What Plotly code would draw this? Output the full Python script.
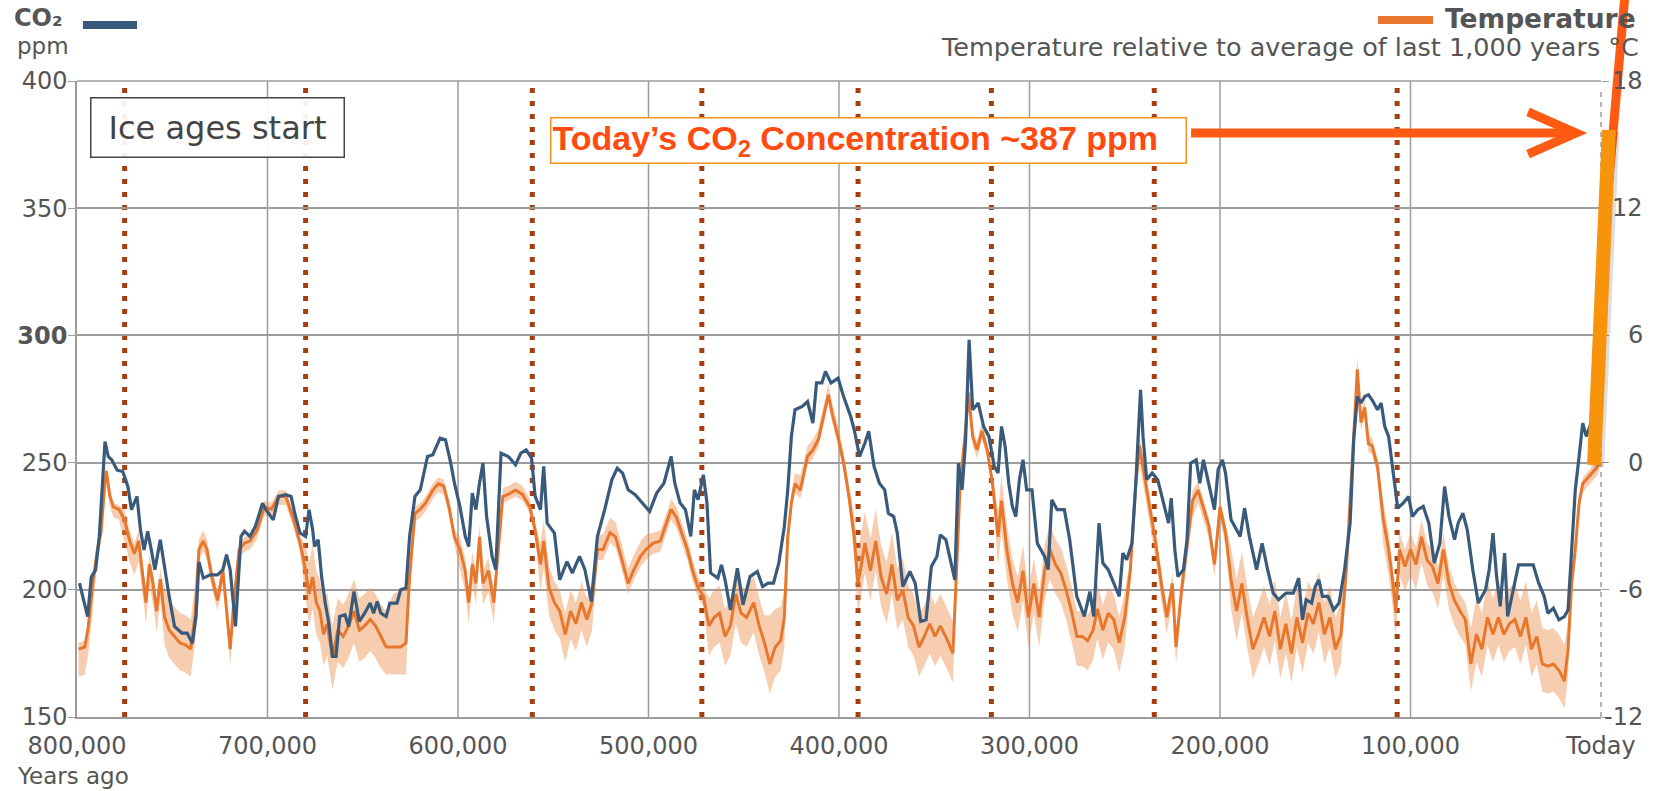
import plotly.graph_objects as go

# ---------------- data (years ago in thousands) ----------------
co2_kyr = [798.7, 795.9, 794.4, 792.5, 790.2, 788.3, 786.4, 785.3, 783.6, 781.7, 778.9, 776.0, 773.3, 771.4, 768.5,
           766.7, 764.8, 762.9, 761.0, 759.1, 756.3, 754.4, 751.6, 748.8, 745.0, 742.2, 739.4, 737.5, 736.0, 733.7,
           730.0, 726.2, 723.4, 721.5, 719.6, 716.8, 715.3, 713.9, 712.1, 709.2, 706.4, 702.6, 700.8, 697.0, 694.2,
           690.4, 687.6, 685.7, 682.9, 680.0, 678.2, 676.3, 675.3, 673.4, 671.6, 669.7, 667.8, 665.9, 664.0, 662.1,
           659.3, 657.4, 654.6, 651.8, 649.0, 646.1, 644.3, 642.4, 640.5, 637.7, 635.8, 632.0, 630.1, 627.3, 625.4,
           622.6, 619.8, 616.0, 613.2, 609.4, 606.6, 603.8, 601.9, 599.0, 596.2, 594.4, 592.5, 590.6, 588.7, 586.9,
           585.0, 582.1, 580.2, 578.3, 577.4, 573.6, 569.8, 567.0, 564.2, 561.4, 559.5, 556.7, 555.0, 553.2, 549.4,
           546.6, 542.8, 540.0, 536.2, 533.4, 530.0, 526.8, 523.0, 519.2, 516.4, 513.6, 510.7, 507.0, 503.2, 499.4,
           495.7, 491.9, 488.1, 486.2, 483.4, 480.6, 477.8, 475.9, 474.0, 471.2, 469.3, 467.4, 463.6, 461.7, 459.8,
           457.0, 453.3, 450.4, 446.7, 442.9, 440.1, 437.2, 434.4, 431.6, 428.7, 426.9, 425.0, 423.1, 419.3, 416.5,
           413.7, 411.8, 409.0, 407.1, 404.2, 400.5, 397.6, 393.9, 392.0, 389.2, 386.4, 384.4, 381.6, 378.8, 376.0,
           374.1, 371.3, 369.4, 366.5, 362.8, 360.0, 357.1, 354.3, 351.5, 348.6, 346.8, 343.9, 339.2, 337.3, 335.4,
           333.6, 331.7, 329.8, 326.9, 324.1, 321.3, 318.5, 316.5, 314.7, 312.8, 310.9, 309.0, 307.2, 305.3, 303.4,
           301.5, 298.7, 295.9, 292.1, 290.2, 288.3, 285.5, 281.7, 278.9, 275.2, 271.2, 268.3, 266.3, 263.5, 261.5,
           258.7, 255.8, 252.9, 251.0, 249.0, 246.2, 244.2, 241.7, 240.4, 238.5, 235.6, 232.7, 229.8, 227.0, 225.6,
           223.7, 222.1, 219.2, 217.3, 215.4, 212.5, 210.6, 208.7, 205.8, 202.9, 201.0, 198.7, 197.1, 194.2, 191.3,
           189.4, 187.1, 184.6, 180.8, 177.9, 175.0, 172.1, 169.2, 165.4, 161.5, 158.7, 156.7, 154.8, 151.9, 150.0,
           148.1, 146.2, 143.3, 140.4, 137.5, 134.6, 131.7, 129.8, 127.9, 126.0, 124.0, 122.1, 120.2, 117.3, 115.4,
           113.5, 111.5, 109.6, 107.7, 106.7, 103.8, 101.0, 99.0, 96.2, 93.3, 90.4, 87.5, 84.6, 82.1, 79.8,
           76.9, 75.0, 72.5, 70.2, 67.3, 64.4, 60.6, 58.7, 56.7, 54.8, 52.9, 50.6, 49.0, 46.2, 43.3,
           39.4, 35.6, 32.7, 29.8, 27.9, 25.0, 22.1, 19.2, 17.3, 15.4, 13.5, 11.5, 9.6, 7.7, 5.0, 2.0]

co2_ppm = [202.6, 193.5, 189.5, 205.0, 207.9, 221.0, 248.5, 258.3, 252.4, 251.0, 247.0, 246.5, 240.6, 231.5, 236.7,
           223.6, 215.7, 223.0, 215.7, 207.9, 219.7, 210.5, 197.4, 185.6, 183.0, 183.0, 179.0, 189.5, 211.0, 204.6,
           205.9, 205.9, 207.9, 213.8, 207.9, 185.6, 202.6, 221.0, 223.0, 221.0, 224.9, 234.0, 231.5, 227.5, 236.7,
           237.4, 236.7, 230.1, 222.3, 221.0, 231.5, 223.6, 217.0, 219.7, 205.2, 194.8, 186.9, 173.8, 173.8, 189.5,
           190.2, 185.6, 199.3, 187.6, 190.8, 194.8, 190.8, 195.4, 190.8, 189.5, 194.8, 194.8, 200.0, 200.7, 221.0,
           236.7, 239.3, 252.4, 253.1, 259.6, 259.0, 249.8, 242.0, 232.8, 221.0, 217.0, 238.0, 231.5, 242.0, 249.8,
           228.8, 213.1, 207.9, 239.3, 253.7, 252.4, 249.1, 253.7, 255.0, 251.8, 236.7, 231.5, 248.5, 226.2, 222.3,
           203.9, 211.1, 206.6, 213.1, 207.9, 195.4, 221.0, 231.5, 243.3, 247.8, 245.9, 239.3, 237.4, 234.1, 230.8,
           238.0, 241.9, 252.4, 241.9, 234.1, 231.5, 221.0, 239.3, 235.4, 245.2, 234.1, 206.6, 204.6, 209.8, 203.9,
           192.1, 208.5, 194.1, 205.2, 207.2, 201.3, 202.6, 202.6, 210.5, 224.9, 239.3, 260.3, 270.8, 272.1, 274.0,
           265.5, 281.3, 281.3, 285.8, 281.3, 283.2, 276.0, 268.2, 262.9, 252.4, 257.7, 262.3, 248.5, 241.9, 239.3,
           230.1, 228.8, 222.3, 201.3, 207.2, 202.6, 187.6, 188.2, 209.2, 213.1, 221.6, 219.7, 203.9, 249.8, 239.3,
           257.7, 298.3, 270.8, 273.4, 264.2, 260.3, 248.5, 245.9, 264.2, 256.4, 241.9, 232.8, 228.8, 243.3, 251.1,
           239.3, 239.3, 218.3, 213.1, 207.9, 235.4, 231.5, 231.5, 219.7, 197.4, 189.5, 199.3, 189.5, 226.2, 210.5,
           207.9, 202.6, 197.4, 214.4, 211.8, 218.3, 241.9, 278.6, 260.3, 243.3, 245.9, 243.3, 234.1, 226.2, 236.0,
           215.7, 205.2, 207.9, 219.7, 249.8, 251.1, 241.9, 251.1, 241.9, 231.5, 247.2, 251.1, 245.9, 227.5, 223.6,
           221.0, 232.1, 221.0, 207.9, 218.3, 207.9, 198.7, 196.1, 198.7, 198.7, 204.6, 188.2, 196.1, 194.8, 201.3,
           203.9, 197.4, 197.4, 192.1, 194.8, 207.9, 226.2, 259.0, 276.0, 273.4, 276.0, 276.7, 274.7, 270.8, 273.4,
           264.2, 260.3, 249.8, 239.3, 232.1, 234.1, 236.7, 228.8, 231.5, 232.8, 226.2, 210.5, 218.3, 240.6, 228.8,
           219.7, 226.2, 230.1, 223.6, 207.9, 194.8, 200.0, 207.9, 222.3, 205.2, 193.5, 214.4, 189.5, 200.0, 209.8,
           209.8, 209.8, 202.6, 197.4, 190.8, 192.8, 188.2, 189.5, 192.1, 215.7, 239.3, 252.4, 265.5, 260.3, 266.0, 270.0]

temp_kyr = [799.2, 795.9, 794.0, 791.7, 789.3, 787.4, 785.5, 784.6, 782.7, 780.8, 778.0, 775.1, 772.3, 769.9, 767.6,
            765.7, 763.8, 762.0, 760.1, 758.2, 756.3, 754.0, 751.6, 748.8, 746.0, 743.1, 740.3, 737.9, 736.0, 733.7,
            731.8, 729.0, 726.2, 723.4, 721.5, 719.6, 717.7, 714.9, 712.1, 709.2, 705.5, 701.7, 697.9, 694.2, 690.4,
            686.6, 682.9, 680.0, 678.2, 676.3, 674.4, 672.5, 670.6, 668.7, 665.9, 663.1, 660.3, 657.4, 654.6, 651.8,
            649.0, 646.1, 643.3, 640.5, 637.7, 633.9, 630.1, 627.3, 625.4, 622.6, 619.8, 617.0, 613.2, 610.4, 607.5,
            604.7, 601.9, 599.0, 596.2, 594.4, 592.5, 590.6, 588.7, 586.9, 584.0, 581.2, 578.3, 576.5, 573.6, 569.8,
            566.1, 562.3, 559.5, 556.7, 555.0, 552.2, 549.4, 546.6, 543.7, 540.9, 538.1, 535.2, 532.4, 529.6, 526.8,
            523.9, 520.2, 517.3, 514.5, 510.7, 507.9, 504.1, 501.3, 497.5, 493.8, 491.0, 488.1, 485.3, 482.5, 479.6,
            476.8, 474.0, 471.2, 468.3, 465.5, 462.7, 459.8, 457.0, 454.2, 451.4, 448.5, 444.8, 441.9, 439.1, 436.3,
            433.5, 430.6, 428.7, 426.9, 425.0, 423.1, 420.3, 416.5, 413.7, 410.8, 408.0, 405.6, 403.3, 400.5, 397.6,
            394.8, 392.0, 390.1, 388.2, 386.4, 383.5, 380.7, 377.9, 375.0, 372.2, 369.4, 366.5, 363.7, 360.9, 358.0,
            355.2, 352.4, 349.6, 346.8, 343.0, 340.2, 338.3, 336.4, 333.6, 332.0, 329.8, 327.5, 325.0, 322.2, 319.4,
            316.5, 314.7, 311.9, 309.0, 306.2, 303.4, 300.6, 297.7, 294.9, 292.1, 289.3, 286.4, 283.6, 280.8, 278.0,
            275.1, 272.3, 269.5, 266.6, 264.4, 261.5, 258.7, 255.8, 252.9, 250.0, 247.1, 244.2, 242.3, 239.4, 236.5,
            233.7, 230.8, 227.9, 225.0, 223.1, 220.2, 217.3, 214.4, 211.5, 208.7, 205.8, 202.9, 200.0, 197.1, 194.2,
            191.3, 188.5, 185.6, 182.7, 179.8, 176.9, 174.0, 171.2, 168.3, 165.4, 162.5, 159.6, 156.7, 153.8, 151.0,
            148.1, 145.2, 142.3, 139.4, 136.5, 133.7, 131.7, 129.8, 127.9, 126.0, 124.0, 122.1, 120.2, 117.3, 114.4,
            111.5, 109.6, 107.7, 105.8, 102.9, 100.0, 97.1, 94.2, 91.3, 88.5, 85.6, 82.7, 79.8, 76.9, 74.0,
            71.2, 68.3, 65.4, 62.5, 59.6, 56.7, 53.8, 51.0, 48.1, 45.2, 42.3, 39.4, 36.5, 33.7, 30.8,
            27.9, 25.0, 22.1, 19.2, 17.3, 15.4, 13.5, 11.5, 9.6, 7.7, 4.8, 1.9, 0.9]

temp_c = [-8.8, -8.7, -7.7, -5.7, -4.1, -3.3, -1.1, -0.4, -1.6, -2.1, -2.2, -2.7, -3.7, -4.3, -3.7,
          -5.1, -6.6, -4.8, -5.7, -7.0, -5.5, -7.3, -7.9, -8.2, -8.5, -8.6, -8.8, -7.1, -4.1, -3.7,
          -4.1, -5.5, -6.5, -5.1, -7.0, -8.8, -6.6, -4.1, -3.8, -3.7, -3.2, -2.1, -2.2, -1.6, -1.6,
          -2.6, -3.8, -5.1, -6.2, -5.4, -6.6, -7.0, -8.1, -7.6, -9.2, -7.9, -8.2, -7.7, -7.0, -7.9,
          -7.7, -7.4, -7.7, -8.2, -8.7, -8.7, -8.7, -8.5, -5.4, -2.4, -2.2, -1.9, -1.3, -1.0, -1.1,
          -2.1, -3.5, -4.1, -5.1, -6.6, -4.8, -5.7, -3.5, -5.7, -5.1, -6.6, -3.5, -1.6, -1.5, -1.3,
          -1.5, -2.1, -3.2, -4.8, -3.7, -5.9, -6.6, -7.0, -8.1, -7.0, -7.6, -6.6, -7.4, -6.6, -4.1,
          -4.1, -3.3, -3.5, -4.4, -5.7, -5.1, -4.4, -4.1, -3.8, -3.7, -3.0, -2.2, -2.6, -3.3, -4.1,
          -5.1, -5.9, -6.3, -7.7, -7.3, -7.1, -8.2, -7.7, -6.2, -7.1, -7.3, -6.6, -7.7, -8.5, -9.5,
          -8.7, -8.4, -7.3, -3.5, -1.9, -1.0, -1.3, 0.3, 0.6, 1.1, 2.2, 3.2, 2.2, 1.2, 0.0,
          -1.6, -3.5, -5.7, -4.8, -3.8, -5.1, -3.7, -5.4, -6.2, -4.8, -6.5, -6.0, -7.3, -7.7, -8.7,
          -8.2, -7.6, -8.2, -7.7, -8.4, -9.0, -5.1, -1.0, 1.5, 3.3, 1.2, 0.6, 1.5, 0.6, -1.0,
          -3.5, -1.8, -4.1, -5.7, -6.6, -5.1, -7.3, -5.7, -7.3, -5.1, -4.1, -4.8, -5.2, -6.0, -7.0,
          -8.2, -8.2, -8.4, -7.9, -6.9, -7.9, -7.1, -7.4, -8.5, -7.3, -5.1, -1.0, 0.8, -0.8, -2.4,
          -3.8, -5.7, -7.3, -5.7, -8.7, -6.0, -3.8, -1.8, -1.3, -2.2, -3.0, -4.8, -2.1, -3.3, -5.5,
          -7.0, -5.7, -7.4, -8.8, -8.1, -7.3, -8.2, -7.0, -8.8, -7.6, -9.0, -7.3, -8.5, -7.1, -7.6,
          -6.6, -8.1, -7.3, -8.8, -8.1, -5.1, -1.9, 1.5, 4.4, 1.9, 2.6, 0.9, 0.8, -0.2, -2.6,
          -4.1, -5.4, -7.0, -4.1, -4.9, -4.1, -4.8, -3.5, -4.6, -4.9, -5.7, -4.1, -5.7, -6.5, -7.0,
          -7.4, -9.5, -8.1, -8.8, -7.3, -8.1, -7.3, -8.1, -7.6, -7.4, -8.2, -7.3, -8.8, -8.2, -9.5,
          -9.6, -9.5, -9.8, -10.3, -8.8, -5.7, -4.1, -1.9, -1.0, -0.8, -0.5, -0.2, 0.0]

temp_hi = [-8.5, -8.4, -7.4, -5.4, -3.9, -3.1, -0.9, -0.2, -1.4, -1.9, -2.0, -2.2, -3.2, -3.8, -3.2,
           -4.6, -6.1, -4.3, -5.2, -6.5, -5.0, -5.9, -6.5, -6.8, -7.1, -7.2, -7.4, -5.7, -3.6, -3.2,
           -3.6, -5.0, -6.0, -4.6, -6.7, -8.5, -6.3, -3.8, -3.5, -3.4, -2.9, -1.8, -1.9, -1.3, -1.3,
           -2.3, -3.5, -3.9, -4.7, -3.9, -5.1, -5.5, -6.6, -6.1, -7.7, -6.4, -6.7, -6.2, -5.5, -6.4,
           -6.2, -5.9, -6.2, -6.7, -7.0, -6.2, -6.0, -6.0, -4.9, -2.1, -1.9, -1.6, -1.0, -0.7, -0.8,
           -1.8, -3.2, -3.5, -4.5, -6.0, -4.2, -5.1, -2.9, -5.1, -4.5, -6.0, -3.1, -1.2, -1.1, -0.9,
           -1.1, -1.7, -2.8, -3.8, -2.7, -4.9, -5.6, -6.0, -7.1, -6.0, -6.6, -5.6, -6.4, -5.6, -3.4,
           -3.4, -2.6, -2.8, -3.7, -5.0, -4.4, -3.7, -3.4, -3.3, -3.2, -2.5, -1.7, -2.1, -2.8, -3.6,
           -4.6, -5.4, -5.8, -6.4, -6.0, -5.8, -6.9, -6.4, -4.9, -5.8, -6.0, -5.3, -6.4, -7.2, -7.2,
           -6.9, -6.8, -6.0, -3.0, -1.4, -0.5, -0.6, 0.8, 1.1, 1.6, 2.7, 3.7, 2.7, 1.7, 0.5,
           -1.1, -2.5, -4.2, -3.3, -2.3, -3.6, -2.2, -3.9, -4.7, -3.3, -5.0, -4.5, -5.8, -6.2, -7.2,
           -6.7, -6.1, -6.7, -6.2, -6.9, -7.5, -4.7, -0.6, 1.9, 3.7, 1.6, 1.0, 1.9, 1.0, -0.6,
           -2.3, -0.6, -2.9, -4.5, -5.4, -3.9, -6.1, -4.5, -6.1, -3.9, -2.9, -3.6, -4.0, -4.8, -5.8,
           -7.0, -7.0, -7.2, -6.7, -5.7, -6.7, -5.9, -6.2, -7.3, -6.1, -4.6, -0.5, 1.3, -0.3, -1.9,
           -3.3, -5.2, -6.8, -5.2, -8.2, -5.5, -3.3, -1.3, -0.9, -1.8, -2.6, -4.4, -1.7, -2.9, -4.0,
           -5.5, -4.2, -5.9, -7.3, -6.6, -5.8, -6.7, -5.5, -7.3, -6.1, -7.5, -5.8, -7.0, -5.6, -6.1,
           -5.1, -6.6, -5.8, -7.3, -6.6, -4.4, -1.5, 1.9, 5.0, 2.3, 3.0, 1.3, 1.2, 0.2, -1.8,
           -3.3, -4.6, -6.2, -3.3, -4.1, -3.3, -4.0, -2.7, -3.8, -4.1, -4.9, -3.3, -4.9, -5.7, -6.2,
           -6.6, -7.8, -6.4, -7.1, -5.6, -6.4, -5.6, -6.4, -5.9, -5.7, -6.5, -5.6, -7.1, -6.5, -7.8,
           -7.9, -7.8, -8.1, -8.6, -7.5, -5.0, -3.8, -1.6, -0.7, -0.5, -0.2, 0.1, 0.3]

temp_lo = [-10.1, -10.0, -9.0, -7.0, -4.6, -3.8, -1.6, -0.9, -2.1, -2.6, -2.7, -3.7, -4.7, -5.3, -4.7,
           -6.1, -7.6, -5.8, -6.7, -8.0, -6.5, -8.6, -9.2, -9.5, -9.8, -9.9, -10.1, -8.4, -4.6, -4.2,
           -4.6, -6.0, -7.0, -5.6, -7.8, -9.6, -7.4, -4.5, -4.2, -4.1, -3.6, -2.5, -2.6, -2.0, -2.0,
           -3.0, -4.2, -6.3, -7.7, -6.9, -8.1, -8.5, -9.6, -9.1, -10.7, -9.4, -9.7, -9.2, -8.5, -9.4,
           -9.2, -8.9, -9.2, -9.7, -10.0, -10.0, -10.0, -10.0, -6.0, -2.8, -2.6, -2.3, -1.7, -1.4, -1.5,
           -2.5, -3.9, -5.1, -6.1, -7.6, -5.8, -6.7, -4.5, -6.7, -6.1, -7.6, -3.8, -1.9, -1.8, -1.6,
           -1.8, -2.4, -3.5, -6.1, -5.0, -7.2, -7.9, -8.3, -9.4, -8.3, -8.9, -7.9, -8.7, -7.9, -4.6,
           -4.6, -3.8, -4.0, -4.9, -6.2, -5.6, -4.9, -4.6, -4.3, -4.2, -3.5, -2.7, -3.1, -3.8, -4.6,
           -5.6, -6.4, -6.8, -9.1, -8.7, -8.5, -9.6, -9.1, -7.6, -8.5, -8.7, -8.0, -9.1, -9.9, -10.9,
           -10.1, -9.8, -8.7, -3.9, -2.3, -1.4, -1.7, -0.1, 0.2, 0.7, 1.8, 2.8, 1.8, 0.8, -0.4,
           -2.0, -4.5, -7.1, -6.2, -5.2, -6.5, -5.1, -6.8, -7.6, -6.2, -7.9, -7.4, -8.7, -9.1, -10.1,
           -9.6, -9.0, -9.6, -9.1, -9.8, -10.4, -5.5, -1.4, 1.1, 2.9, 0.8, 0.2, 1.1, 0.2, -1.4,
           -4.9, -3.2, -5.5, -7.1, -8.0, -6.5, -8.7, -7.1, -8.7, -6.5, -5.5, -6.2, -6.6, -7.4, -8.4,
           -9.6, -9.6, -9.8, -9.3, -8.3, -9.3, -8.5, -8.8, -9.9, -8.7, -5.9, -1.8, 0.0, -1.6, -3.2,
           -4.6, -6.5, -8.1, -6.5, -9.5, -6.8, -4.6, -2.6, -1.9, -2.8, -3.6, -5.4, -2.7, -3.9, -6.9,
           -8.4, -7.1, -8.8, -10.2, -9.5, -8.7, -9.6, -8.4, -10.2, -9.0, -10.4, -8.7, -9.9, -8.5, -9.0,
           -8.0, -9.5, -8.7, -10.2, -9.5, -5.9, -2.3, 1.1, 4.0, 1.5, 2.2, 0.5, 0.4, -0.6, -3.8,
           -5.3, -6.6, -8.2, -5.3, -6.1, -5.3, -6.0, -4.7, -5.8, -6.1, -6.9, -5.3, -6.9, -7.7, -8.2,
           -8.6, -10.8, -9.4, -10.1, -8.6, -9.4, -8.6, -9.4, -8.9, -8.7, -9.5, -8.6, -10.1, -9.5, -10.8,
           -10.9, -10.8, -11.1, -11.6, -10.1, -6.3, -4.5, -2.3, -1.4, -1.2, -0.9, -0.6, -0.4]

ice_age_kyr = [775.0, 680.0, 561.0, 472.0, 390.0, 320.0, 234.5, 107.0]

x_tick_vals = [800, 700, 600, 500, 400, 300, 200, 100, 0]
x_tick_text = ["800,000", "700,000", "600,000", "500,000", "400,000", "300,000", "200,000", "100,000", "Today"]
x_grid_vals = [700, 600, 500, 400, 300, 200, 100]
co2_tick_vals = [150, 200, 250, 300, 350, 400]
co2_tick_text = ["150", "200", "250", "<b>300</b>", "350", "400"]
temp_tick_vals = [-12, -6, 0, 6, 12, 18]
temp_tick_text = ["-12", "-6", "0", "6", "12", "18"]

# ---------------- styles ----------------
FONT = "DejaVu Sans"
TXT = "#555555"
GRID = "#9c9c9c"
BLUE = "#3A5A7C"
ORANGE = "#E8772E"
RED = "#FF5A14"

fig = go.Figure()
fig.add_trace(go.Scatter(x=temp_kyr, y=temp_lo, mode="lines", line=dict(width=0),
                         hoverinfo="skip", showlegend=False, yaxis="y"))
fig.add_trace(go.Scatter(x=temp_kyr, y=temp_hi, mode="lines", line=dict(width=0),
                         fill="tonexty", fillcolor="rgba(238,145,80,0.45)",
                         hoverinfo="skip", showlegend=False, yaxis="y"))
fig.add_trace(go.Scatter(x=temp_kyr, y=temp_c, mode="lines", name="Temperature",
                         line=dict(color=ORANGE, width=3), showlegend=False, yaxis="y"))
fig.add_trace(go.Scatter(x=co2_kyr, y=co2_ppm, mode="lines", name="CO2",
                         line=dict(color=BLUE, width=3.2), showlegend=False, yaxis="y2"))

shapes = []
for g in x_grid_vals:
    shapes.append(dict(type="line", xref="x", yref="paper", x0=g, x1=g, y0=0, y1=1,
                       line=dict(color=GRID, width=1.5), layer="below"))
# top border
shapes.append(dict(type="line", xref="paper", yref="paper", x0=0, x1=1, y0=1, y1=1,
                   line=dict(color=GRID, width=1.5), layer="below"))
# dashed right edge
shapes.append(dict(type="line", xref="paper", yref="paper", x0=1, x1=1, y0=0, y1=0.985,
                   line=dict(color=GRID, width=1.5, dash="5px,5px"), layer="below"))
for k in ice_age_kyr:
    shapes.append(dict(type="line", xref="x", yref="paper", x0=k, x1=k, y0=0, y1=1,
                       line=dict(color="#A63F0E", width=5, dash="5px,8px"), layer="below"))

# legend swatches
shapes.append(dict(type="line", xref="paper", yref="paper", x0=0.0039, x1=0.0394, y0=1.0881, y1=1.0881,
                   line=dict(color=BLUE, width=8)))
shapes.append(dict(type="line", xref="paper", yref="paper", x0=0.8537, x1=0.8898, y0=1.0959, y1=1.0959,
                   line=dict(color=ORANGE, width=8)))

# arrow to today's concentration
shapes.append(dict(type="line", xref="paper", yref="paper", x0=0.7310, x1=0.9783, y0=0.9182, y1=0.9182,
                   line=dict(color=RED, width=9)))
shapes.append(dict(type="path", xref="paper", yref="paper",
                   path="M 0.9521,0.9513 L 0.9836,0.9182 L 0.9521,0.8852",
                   line=dict(color=RED, width=9)))
# red rising line and orange bar
shapes.append(dict(type="line", xref="paper", yref="paper", x0=1.0052, x1=1.0157, y0=0.8443, y1=1.1352,
                   line=dict(color=RED, width=9)))
shapes.append(dict(type="line", xref="paper", yref="paper", x0=0.9975, x1=1.0075, y0=0.3935, y1=0.9200,
                   line=dict(color="rgba(0,0,0,0.13)", width=14)))
shapes.append(dict(type="line", xref="paper", yref="paper", x0=0.9954, x1=1.0052, y0=0.3962, y1=0.9230,
                   line=dict(color="#F7940C", width=14)))

annotations = [
    dict(xref="paper", yref="paper", x=-0.0427, y=1.0990, xanchor="left", yanchor="middle",
         text="<b>CO₂</b>", showarrow=False, font=dict(family=FONT, size=24, color=TXT)),
    dict(xref="paper", yref="paper", x=-0.0407, y=1.0550, xanchor="left", yanchor="middle",
         text="ppm", showarrow=False, font=dict(family=FONT, size=23, color=TXT)),
    dict(xref="paper", yref="paper", x=0.8963, y=1.0975, xanchor="left", yanchor="middle",
         text="<b>Temperature</b>", showarrow=False, font=dict(family=FONT, size=26.5, color=TXT)),
    dict(xref="paper", yref="paper", x=1.0262, y=1.0535, xanchor="right", yanchor="middle",
         text="Temperature relative to average of last 1,000 years °C", showarrow=False,
         font=dict(family=FONT, size=25.5, color=TXT)),
    dict(xref="paper", yref="paper", x=-0.0407, y=-0.0935, xanchor="left", yanchor="middle",
         text="Years ago", showarrow=False, font=dict(family=FONT, size=23, color=TXT)),
    dict(xref="paper", yref="paper", x=0.0085, y=0.9269, xanchor="left", yanchor="middle",
         text="Ice ages start", showarrow=False, width=250, height=56, borderpad=1,
         font=dict(family=FONT, size=32, color="#444444"),
         bordercolor="#444444", borderwidth=1.5, bgcolor="rgba(255,255,255,0.92)"),
    dict(xref="paper", yref="paper", x=0.3104, y=0.9064, xanchor="left", yanchor="middle",
         text="<b>Today’s CO<sub>2</sub> Concentration ~387 ppm</b>", showarrow=False,
         width=632, height=42, borderpad=1, align="left",
         font=dict(family="Liberation Sans", size=34, color="#FF4A10"),
         bordercolor="#F7931E", borderwidth=1.5, bgcolor="white"),
]
# right-aligned temperature tick labels
for v, t in zip(temp_tick_vals, temp_tick_text):
    annotations.append(dict(xref="paper", yref="y", x=1.0289, y=v, xanchor="right", yanchor="middle",
                            text=t, showarrow=False, font=dict(family=FONT, size=24, color=TXT)))

tickfont = dict(family=FONT, size=24, color=TXT)
fig.update_layout(
    width=1653, height=791,
    margin=dict(l=77, r=52, t=81, b=74, autoexpand=False),
    paper_bgcolor="white", plot_bgcolor="rgba(0,0,0,0)",
    showlegend=False,
    xaxis=dict(range=[800, 0], tickmode="array", tickvals=x_tick_vals, ticktext=x_tick_text,
               showgrid=False, zeroline=False, showline=True, linecolor=GRID, linewidth=1.5,
               ticks="", tickfont=tickfont, ticklabelstandoff=6, automargin=False),
    yaxis=dict(range=[-12, 18], tickmode="array", tickvals=temp_tick_vals,
               side="right", showgrid=True, gridcolor=GRID, gridwidth=1.5, zeroline=False,
               showline=False, ticks="outside", ticklen=7, tickcolor=GRID,
               showticklabels=False, automargin=False),
    yaxis2=dict(range=[150, 400], overlaying="y", side="left", tickmode="array",
                tickvals=co2_tick_vals, ticktext=co2_tick_text, showgrid=False, zeroline=False,
                showline=True, linecolor=GRID, linewidth=1.5, ticks="outside", ticklen=7,
                tickcolor=GRID, tickfont=tickfont, ticklabelstandoff=-4, automargin=False),
    shapes=shapes,
    annotations=annotations,
)

fig.write_html("out.html")
